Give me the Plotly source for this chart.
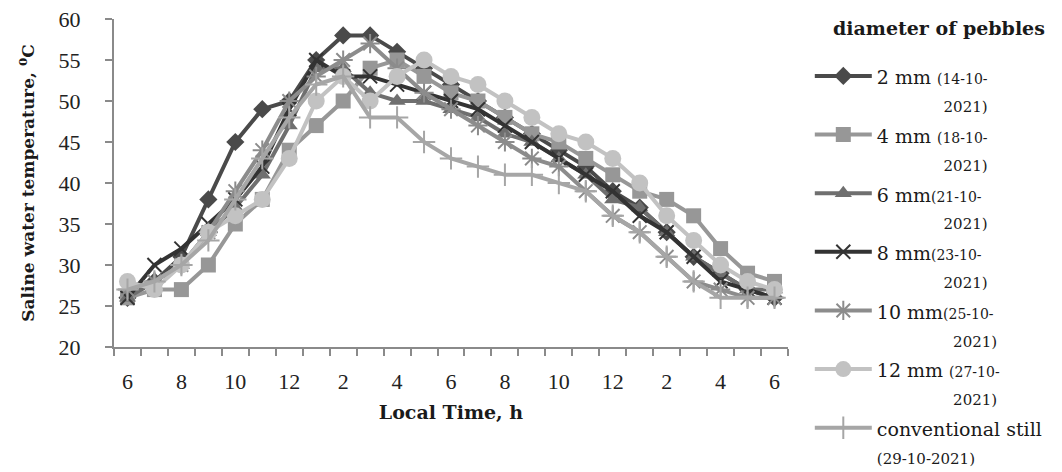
import plotly.graph_objects as go

hours = ["6","7","8","9","10","11","12","1","2","3","4","5","6",
         "7","8","9","10","11","12","1","2","3","4","5","6"]

mm2  = [26, 28, 31, 38, 45, 49, 50, 55, 58, 58, 56, 54, 52, 50, 48, 46, 44, 42, 39, 37, 34, 31, 29, 27, 26]
mm4  = [26, 27, 27, 30, 35, 38, 44, 47, 50, 54, 55, 53, 51, 50, 48, 46, 45, 43, 41, 39, 38, 36, 32, 29, 28]
mm6  = [26, 28, 30, 34, 37, 41, 47, 54, 54, 51, 50, 50, 49, 48, 46, 45, 43, 41, 38, 37, 34, 31, 29, 27, 27]
mm8  = [26, 30, 32, 35, 38, 42, 49, 55, 53, 53, 52, 51, 50, 49, 47, 45, 43, 41, 39, 36, 34, 31, 28, 27, 26]
mm10 = [27, 28, 30, 34, 39, 44, 50, 53, 55, 57, 54, 51, 49, 47, 45, 43, 42, 39, 36, 34, 31, 28, 27, 26, 26]
mm12 = [28, 27, 30, 34, 36, 38, 43, 50, 53, 50, 53, 55, 53, 52, 50, 48, 46, 45, 43, 40, 36, 33, 30, 28, 27]
conv = [27, 28, 30, 33, 38, 43, 48, 52, 53, 48, 48, 45, 43, 42, 41, 41, 40, 39, 36, 34, 31, 28, 26, 26, 26]

NB = "\u00a0"
def entry(main, date, pad):
    return (f"<span style='font-size:19px'>{main}</span>"
            f"<span style='font-size:14px'>({date}-</span><br>"
            f"<span style='font-size:15px'>{NB * pad}2021)</span>")

names = [
    entry("2 mm ", "14-10", 14),
    entry("4 mm ", "18-10", 14),
    entry("6 mm", "21-10", 14),
    entry("8 mm", "23-10", 14),
    entry("10 mm", "25-10", 16),
    entry("12 mm ", "27-10", 16),
    "<span style='font-size:19px'>conventional still</span><br>"
    "<span style='font-size:15px'>(29-10-2021)</span>",
]
series = [mm2, mm4, mm6, mm8, mm10, mm12, conv]
colors = ["#4a4a4a", "#979797", "#6f6f6f", "#333333", "#8c8c8c", "#c2c2c2", "#a6a6a6"]
symbols = ["diamond", "square", "triangle-up", "x-thin-open", "asterisk-open", "circle", "cross-thin-open"]
sizes = [14, 15, 15, 14, 16, 17, 16]

x = list(range(len(hours)))

fig = go.Figure()
for name, ys, c, s, sz in zip(names, series, colors, symbols, sizes):
    open_sym = s.endswith("-open")
    fig.add_trace(go.Scatter(
        x=x, y=ys, name=name, mode="lines+markers",
        line=dict(color=c, width=4),
        marker=dict(symbol=s, size=sz, color=c,
                    line=dict(color=c, width=2 if open_sym else 0)),
    ))

serif = "Liberation Serif"
wide_serif = "DejaVu Serif"
W, H = 1054, 464
fig.update_layout(
    width=W, height=H,
    margin=dict(l=106, r=274, t=11, b=125, autoexpand=False),
    paper_bgcolor="white", plot_bgcolor="white",
    font=dict(family=serif, color="#1a1a1a", size=20),
    showlegend=True,
    legend=dict(
        xref="container", yref="container",
        x=801.8 / W, y=1 - 47.5 / H, xanchor="left", yanchor="top",
        font=dict(family=wide_serif, size=21.4, color="#1a1a1a"),
        itemwidth=57, valign="top", tracegroupgap=0,
        maxheight=460,
        bgcolor="rgba(0,0,0,0)",
    ),
    annotations=[dict(
        text="<b>diameter of pebbles</b>", xref="paper", yref="paper",
        x=1.224, y=0.9726, xanchor="center", yanchor="middle", showarrow=False,
        font=dict(family=wide_serif, size=19, color="#1a1a1a"),
    )],
)
fig.update_xaxes(
    range=[-0.5, 24.5], tickmode="array",
    tickvals=x[::2], ticktext=hours[::2], ticks="",
    showline=True, linecolor="#8a8a8a", linewidth=2,
    showgrid=False, zeroline=False,
    tickfont=dict(family=serif, size=22, color="#222"),
    ticklabelstandoff=14, ticklabeloverflow="allow",
    minor=dict(tickmode="linear", tick0=-0.5, dtick=1, ticks="outside",
               ticklen=7, tickwidth=2, tickcolor="#8a8a8a", showgrid=False),
    title=dict(text="<b>Local Time, h</b>", standoff=12,
               font=dict(family=wide_serif, size=19, color="#1a1a1a")),
)
fig.update_yaxes(
    range=[20, 60], dtick=5, tick0=20,
    ticks="outside", ticklen=7, tickwidth=2, tickcolor="#8a8a8a",
    showline=True, linecolor="#8a8a8a", linewidth=2,
    showgrid=False, zeroline=False,
    tickfont=dict(family=serif, size=22, color="#222"),
    ticklabelstandoff=20, ticklabeloverflow="allow",
    title=dict(text="<b>Saline water temperature, <sup>0</sup>C</b>", standoff=20,
               font=dict(family=wide_serif, size=17, color="#1a1a1a")),
)

fig.write_html("out.html")
